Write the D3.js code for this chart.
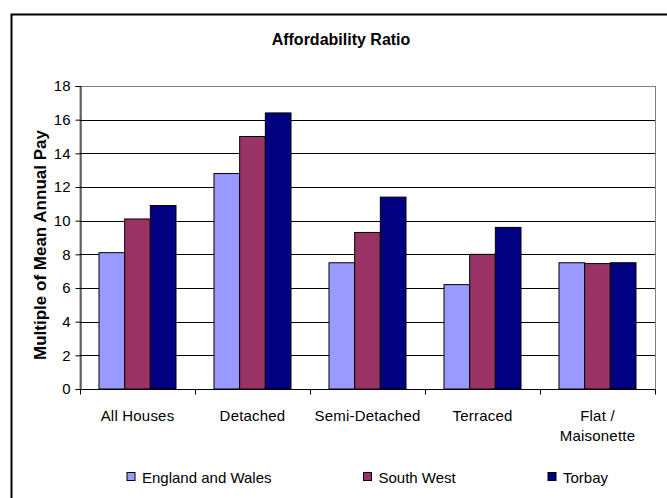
<!DOCTYPE html>
<html><head><meta charset="utf-8">
<script src="https://cdn.jsdelivr.net/npm/d3@7"></script>
<style>
body{margin:0;background:#fff;}
svg{display:block;font-family:"Liberation Sans",Arial,sans-serif;}
</style></head>
<body>
<svg id="c" width="667" height="498"></svg>
<script>
const categories = ["All Houses", "Detached", "Semi-Detached", "Terraced", "Flat / Maisonette"];
const seriesNames = ["England and Wales", "South West", "Torbay"];
const englandWales = [8.1, 12.8, 7.5, 6.2, 7.5];
const southWest = [10.1, 15.0, 9.3, 8.0, 7.45];
const torbay = [10.9, 16.4, 11.4, 9.6, 7.5];
const yTicks = [0, 2, 4, 6, 8, 10, 12, 14, 16, 18];
const colors = ["#9999FF", "#993366", "#000080"];
const seriesVals = [englandWales, southWest, torbay];

const svg = d3.select("#c");
const L = 80, R = 655, T = 86, B = 389;

svg.append("rect").attr("x", 11.5).attr("y", 14.5).attr("width", 700).attr("height", 600)
  .attr("fill", "#fff").attr("stroke", "#000").attr("stroke-width", 2);

svg.append("text").attr("x", 341).attr("y", 45).attr("text-anchor", "middle")
  .attr("font-size", 16).attr("font-weight", "bold").text("Affordability Ratio");

const x0 = d3.scaleBand().domain(categories).range([L, R]).paddingInner(0).paddingOuter(0);
const x1 = d3.scaleBand().domain(seriesNames).range([0, x0.bandwidth()]).paddingInner(0).paddingOuter(0.74);
const y = d3.scaleLinear().domain([0, 18]).range([B, T]);

// plot border
svg.append("rect").attr("x", L).attr("y", T + 0.5).attr("width", R - L + 0.5).attr("height", B - T)
  .attr("fill", "none").attr("stroke", "#808080");

// gridlines
svg.append("g").selectAll("line").data(yTicks.filter(d => d > 0)).join("line")
  .attr("x1", L).attr("x2", R).attr("y1", d => Math.round(y(d)) + 0.5).attr("y2", d => Math.round(y(d)) + 0.5)
  .attr("stroke", d => d === 18 ? "#808080" : "#000").attr("stroke-width", 1);

// bars
const groups = svg.append("g").selectAll("g").data(categories).join("g")
  .attr("transform", d => `translate(${x0(d)},0)`);
groups.selectAll("rect").data((c, i) => seriesNames.map((s, j) => ({s, v: seriesVals[j][i], j})))
  .join("rect")
  .attr("x", d => x1(d.s)).attr("width", x1.bandwidth())
  .attr("y", d => y(d.v)).attr("height", d => B - y(d.v))
  .attr("fill", d => colors[d.j]).attr("stroke", "#000").attr("stroke-width", 1);

// y axis
const yAxis = svg.append("g").attr("transform", `translate(${L + 0.5},0)`)
  .call(d3.axisLeft(y).tickValues(yTicks).tickSize(5).tickPadding(5).tickFormat(d3.format("d")));
yAxis.select(".domain").attr("stroke", "#000");
yAxis.selectAll("text").attr("font-size", 15).attr("fill", "#000").attr("font-family", "Liberation Sans, Arial, sans-serif");

// x axis
const xAxis = svg.append("g").attr("transform", `translate(0,${B + 0.5})`);
xAxis.append("line").attr("x1", L).attr("x2", R).attr("stroke", "#000");
xAxis.selectAll("line.t").data(d3.range(categories.length + 1)).join("line").attr("class", "t")
  .attr("x1", i => Math.round(L + i * x0.bandwidth()) + 0.5).attr("x2", i => Math.round(L + i * x0.bandwidth()) + 0.5)
  .attr("y1", 0).attr("y2", 5).attr("stroke", "#000");
categories.forEach(c => {
  const lines = c === "Flat / Maisonette" ? ["Flat /", "Maisonette"] : [c];
  lines.forEach((ln, k) => {
    xAxis.append("text").attr("x", x0(c) + x0.bandwidth() / 2).attr("y", 31 + k * 20)
      .attr("text-anchor", "middle").attr("font-size", 15).attr("letter-spacing", 0.2).text(ln);
  });
});

// y title
svg.append("text").attr("transform", `translate(46,245) rotate(-90)`)
  .attr("text-anchor", "middle").attr("font-size", 17).attr("font-weight", "bold")
  .text("Multiple of Mean Annual Pay");

// legend
const legX = [127, 363.5, 548];
const lg = svg.append("g").selectAll("g").data(seriesNames).join("g")
  .attr("transform", (d, i) => `translate(${legX[i]},472.5)`);
lg.append("rect").attr("width", 8).attr("height", 8).attr("fill", (d, i) => colors[i]).attr("stroke", "#000");
lg.append("text").attr("x", 15).attr("y", 10).attr("font-size", 15).text(d => d);
</script>
</body></html>
